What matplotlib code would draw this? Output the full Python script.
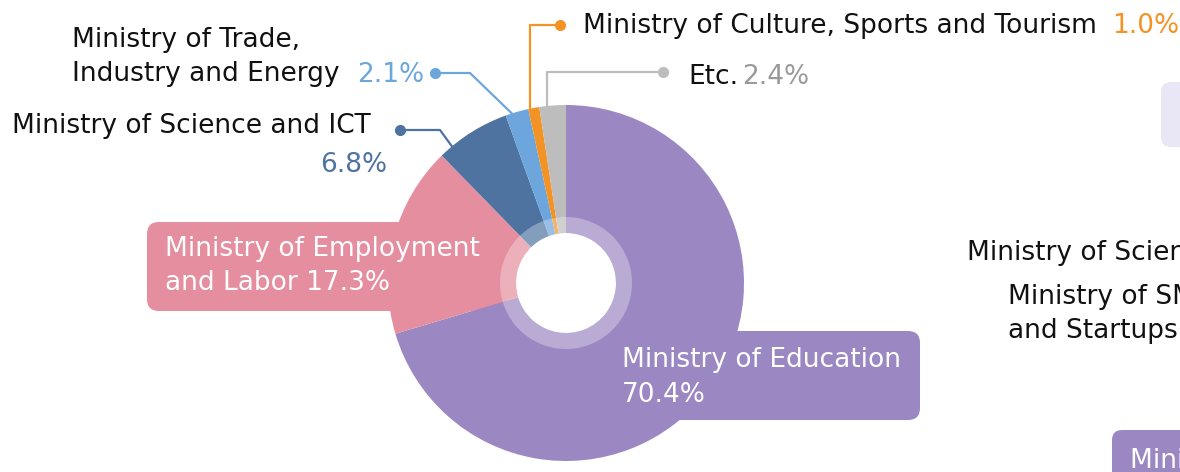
import numpy as np
import matplotlib.pyplot as plt
from matplotlib.patches import FancyBboxPatch, Wedge

plt.rcParams['font.family'] = ['DejaVu Sans']

# budget share by ministry (%)
ministries = ['Ministry of Education', 'Ministry of Employment and Labor',
              'Ministry of Science and ICT', 'Ministry of Trade, Industry and Energy',
              'Ministry of Culture, Sports and Tourism', 'Etc.']
shares = [70.4, 17.3, 6.8, 2.1, 1.0, 2.4]
pct_labels = ['70.4%', '17.3%', '6.8%', '2.1%', '1.0%', '2.4%']
colors = ['#9b87c1', '#e48e9f', '#4e73a0', '#6ca6dd', '#f39325', '#bdbdbd']
pct_colors = ['white', 'white', '#4e73a0', '#6ca6dd', '#f39325', '#9a9a9a']

W, H = 1180, 472
cx, cy = 566, H - 283
R = 178
FS = 19.0

fig = plt.figure(figsize=(W / 100, H / 100), dpi=100)
ax = fig.add_axes([0, 0, 1, 1])

wedges, _ = ax.pie(shares, colors=colors, startangle=90, counterclock=False,
                   center=(cx, cy), radius=R,
                   wedgeprops=dict(width=R - 50, linewidth=0))
for w in wedges:
    w.set_zorder(2)

# translucent ring around the hole
ax.add_patch(Wedge((cx, cy), 66, 0, 360, width=16, facecolor='white',
                   alpha=0.3, linewidth=0, zorder=3))

ax.set_xlim(0, W)
ax.set_ylim(0, H)
ax.set_aspect('auto')
ax.axis('off')


def img(y):
    return H - y


def txt(x, y, s, color='#111111', **kw):
    ax.text(x, img(y), s, fontsize=FS, va='baseline', color=color, zorder=4, **kw)


# label boxes for the two big slices
ax.add_patch(FancyBboxPatch((147, img(311)), 360, 89,
                            boxstyle='round,pad=0,rounding_size=12',
                            facecolor=colors[1], linewidth=0, zorder=1))
txt(165, 256, 'Ministry of Employment', color='white')
txt(165, 290, 'and Labor ' + pct_labels[1], color='white')

ax.add_patch(FancyBboxPatch((625, img(420)), 295, 89,
                            boxstyle='round,pad=0,rounding_size=12',
                            facecolor=colors[0], linewidth=0, zorder=1))
txt(622, 367, ministries[0], color='white')
txt(622, 402, pct_labels[0], color='white')


# leader lines for the small slices
def anchor(i, frac):
    w = wedges[i]
    a = np.radians(w.theta1 + frac * (w.theta2 - w.theta1))
    return cx + (R - 1) * np.cos(a), cy + (R - 1) * np.sin(a)


leaders = {
    2: (0.82, [(440, img(130)), (400, img(130))]),
    3: (0.7, [(470, img(73)), (435, img(73))]),
    4: (0.9, [None, (560, img(25))]),
    5: (0.7, [None, (663, img(72))]),
}
for i, (frac, pts) in leaders.items():
    ax0, ay0 = anchor(i, frac)
    elbow, dot = pts
    if elbow is None:
        elbow = (ax0, dot[1])
    xs = [ax0, elbow[0], dot[0]]
    ys = [ay0, elbow[1], dot[1]]
    ax.plot(xs, ys, color=colors[i], lw=1.6, zorder=5, solid_capstyle='butt')
    ax.plot(dot[0], dot[1], 'o', color=colors[i], ms=7, zorder=6)

txt(72, 47, 'Ministry of Trade,')
txt(72, 81, 'Industry and Energy')
txt(357, 82, pct_labels[3], color=pct_colors[3])
txt(12, 133, ministries[2])
txt(387, 172, pct_labels[2], color=pct_colors[2], ha='right')
txt(583, 33, ministries[4])
txt(1112, 33, pct_labels[4], color=pct_colors[4])
txt(688, 84, ministries[5])
txt(742, 84, pct_labels[5], color=pct_colors[5])

# neighbouring chart, cut off at the right edge
ax.add_patch(FancyBboxPatch((1161, img(147)), 200, 65,
                            boxstyle='round,pad=0,rounding_size=10',
                            facecolor='#e9e7f6', linewidth=0, zorder=1))
txt(967, 260, 'Ministry of Science and ICT')
txt(1008, 304, 'Ministry of SMEs')
txt(1008, 338, 'and Startups')
ax.add_patch(FancyBboxPatch((1112, img(485)), 300, 55,
                            boxstyle='round,pad=0,rounding_size=10',
                            facecolor=colors[0], linewidth=0, zorder=1))
txt(1130, 468, ministries[0], color='white')

fig.savefig('out.png', dpi=100)
